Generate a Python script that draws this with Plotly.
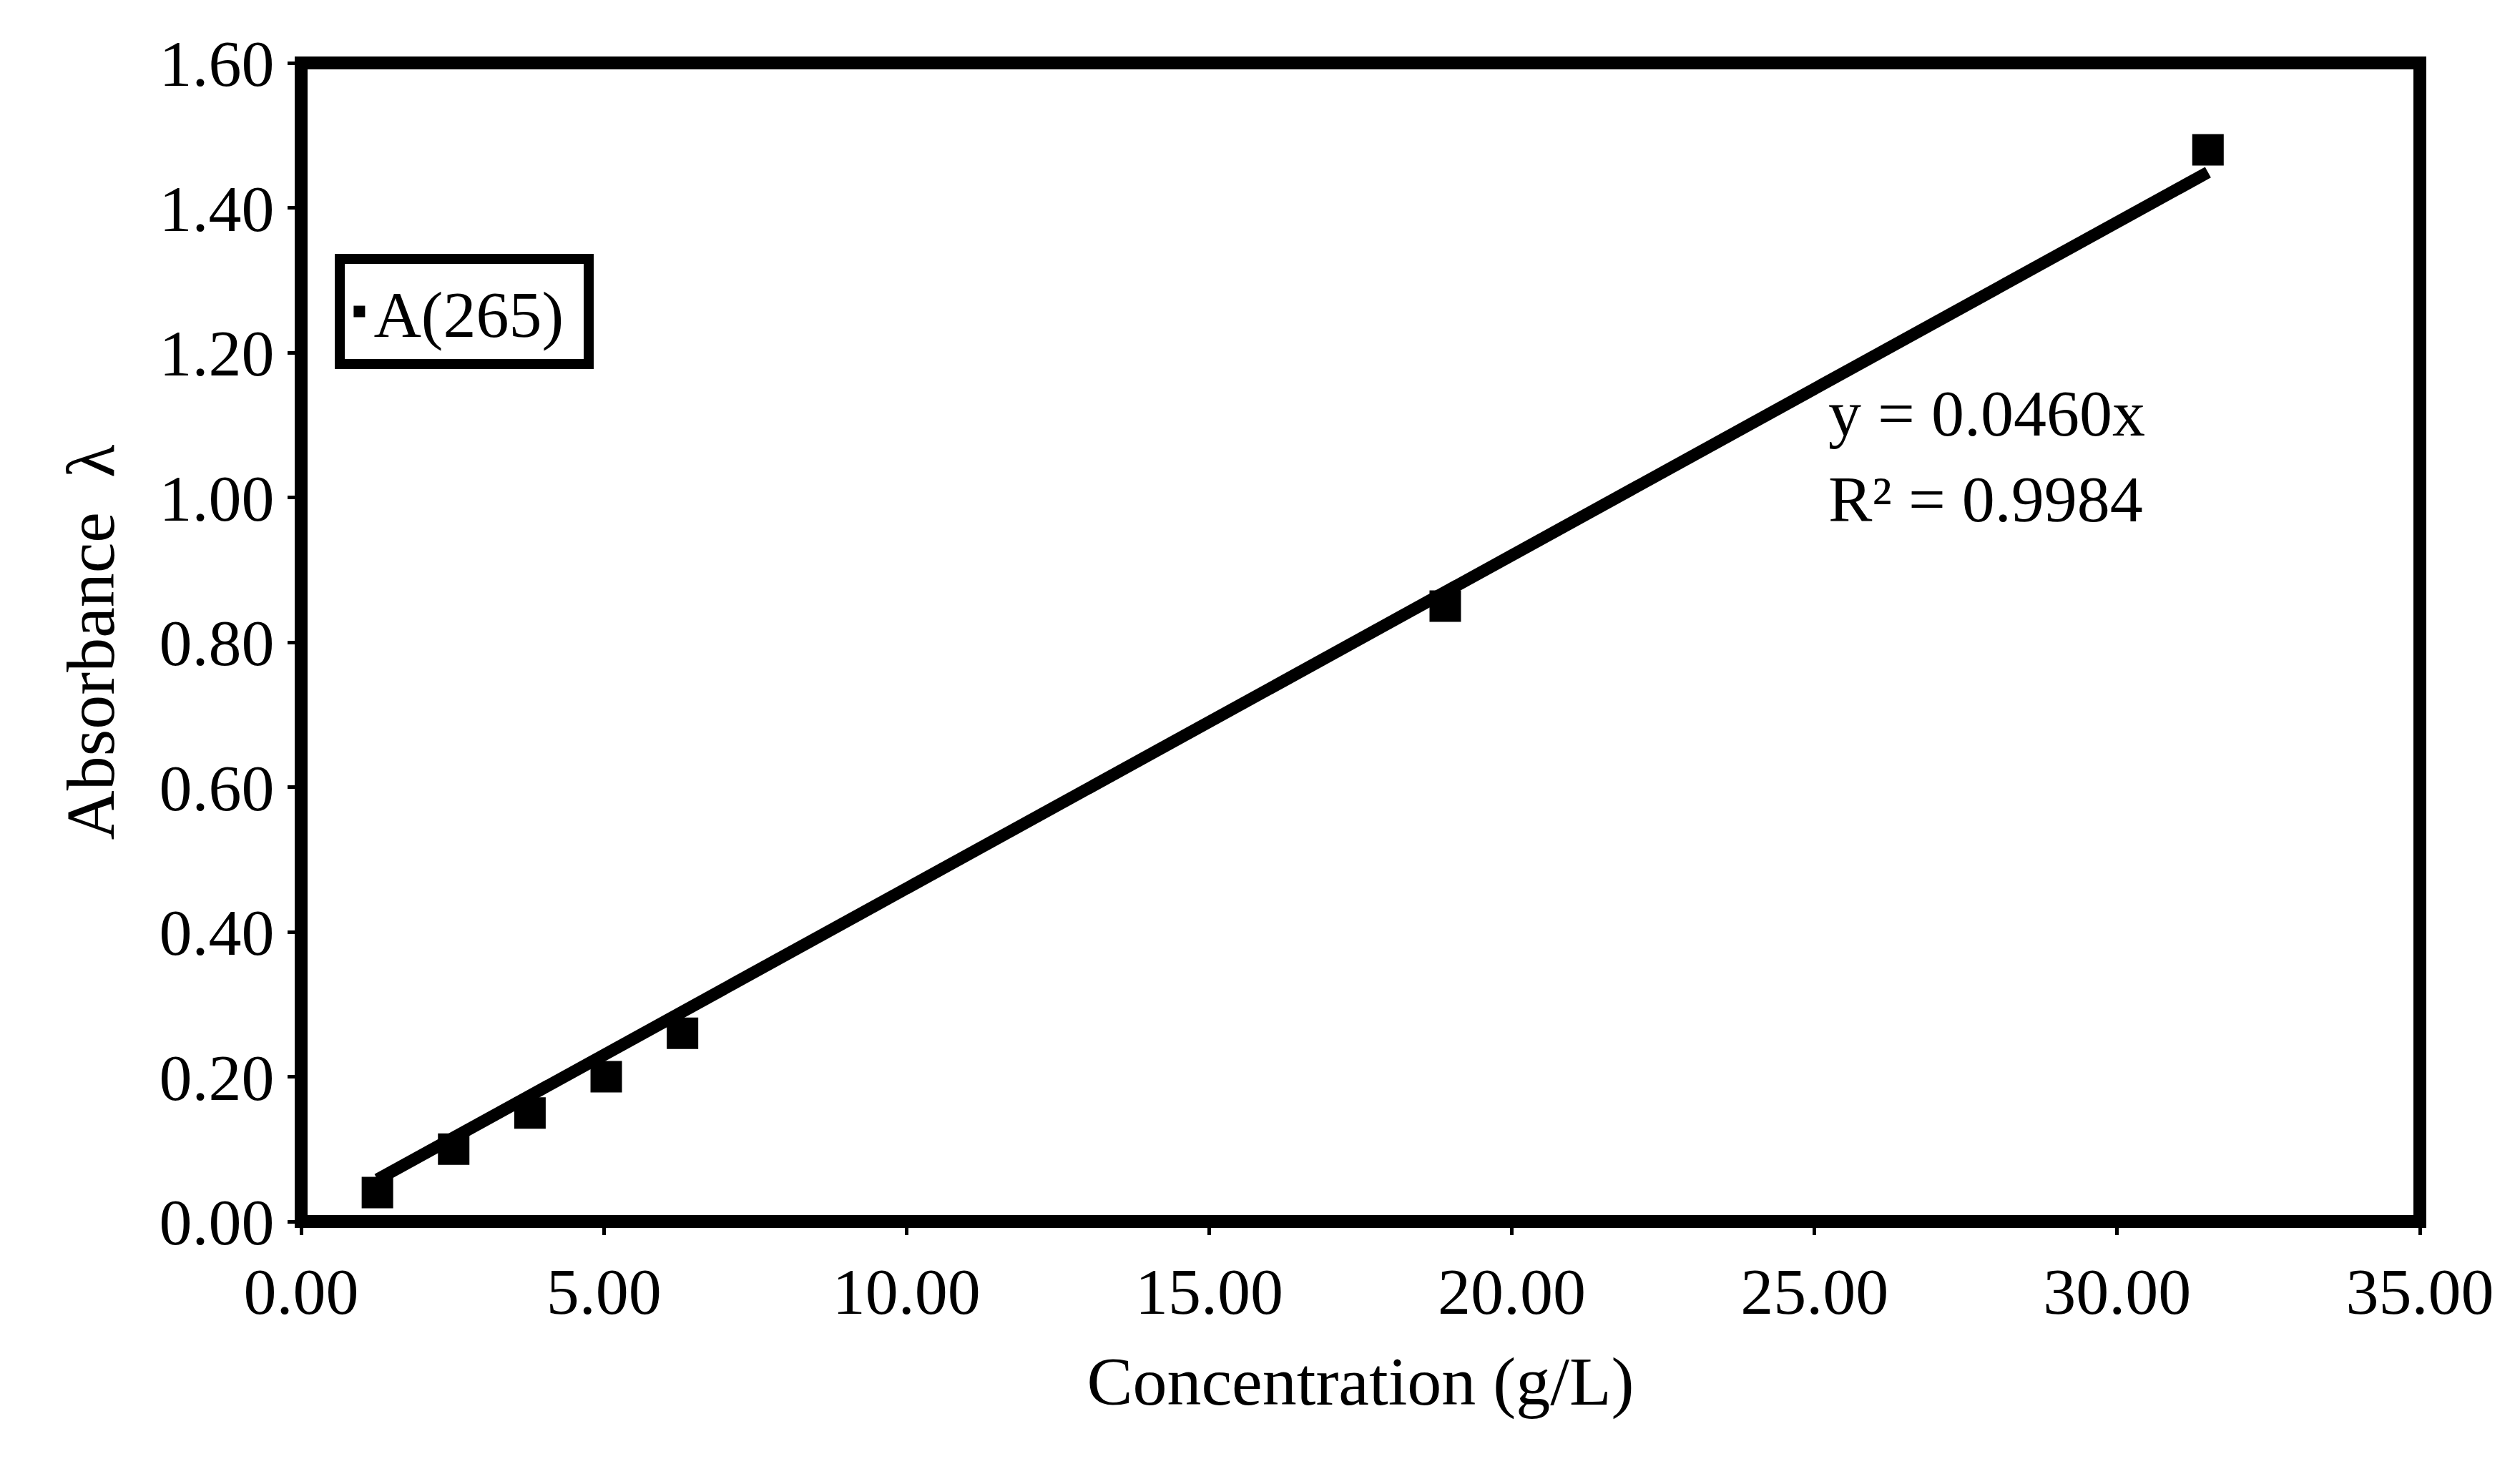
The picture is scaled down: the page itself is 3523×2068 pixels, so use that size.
import plotly.graph_objects as go

conc = [1.26, 2.52, 3.78, 5.04, 6.30, 18.90, 31.50]
absorb = [0.04, 0.10, 0.15, 0.20, 0.26, 0.85, 1.48]
slope = 0.0460
fit_x = [conc[0], conc[-1]]
fit_y = [slope * v for v in fit_x]

font = "Liberation Serif"
fig = go.Figure()
fig.add_trace(go.Scatter(x=fit_x, y=fit_y, mode="lines", line=dict(color="black", width=17),
                         showlegend=False, hoverinfo="skip"))
fig.add_trace(go.Scatter(x=conc, y=absorb, mode="markers", name="A(265) ",
                         marker=dict(symbol="square", color="black", size=44)))

fig.add_annotation(x=0.72, y=0.73, xref="paper", yref="paper", xanchor="left", yanchor="top",
                   text="y = 0.0460x<br>R² = 0.9984", showarrow=False, align="left",
                   font=dict(family=font, size=92, color="black"))

fig.add_shape(type="rect", xref="paper", yref="paper", x0=0, y0=0, x1=1, y1=1,
              line=dict(color="black", width=18))

fig.update_xaxes(range=[0, 35], dtick=5, tickformat=".2f", ticks="outside", ticklen=18, tickwidth=5,
                 tickcolor="black", showgrid=False, zeroline=False,
                 tickfont=dict(family=font, size=92, color="black"),
                 title=dict(text="Concentration (g/L)", font=dict(family=font, size=96, color="black"), standoff=40))
fig.update_yaxes(range=[0, 1.6], dtick=0.2, tickformat=".2f", ticks="outside", ticklen=18, tickwidth=5,
                 tickcolor="black", showgrid=False, zeroline=False,
                 tickfont=dict(family=font, size=92, color="black"),
                 title=dict(text="Absorbance  λ", font=dict(family=font, size=96, color="black"), standoff=30))

fig.update_layout(width=3523, height=2068, margin=dict(l=413, r=148, t=80, b=368),
                  plot_bgcolor="white", paper_bgcolor="white",
                  legend=dict(x=0.016, y=0.835, xanchor="left", yanchor="top",
                              bordercolor="black", borderwidth=14, bgcolor="white",
                              font=dict(family=font, size=92, color="black"),
                              entrywidth=480))

fig.write_html("out.html")
